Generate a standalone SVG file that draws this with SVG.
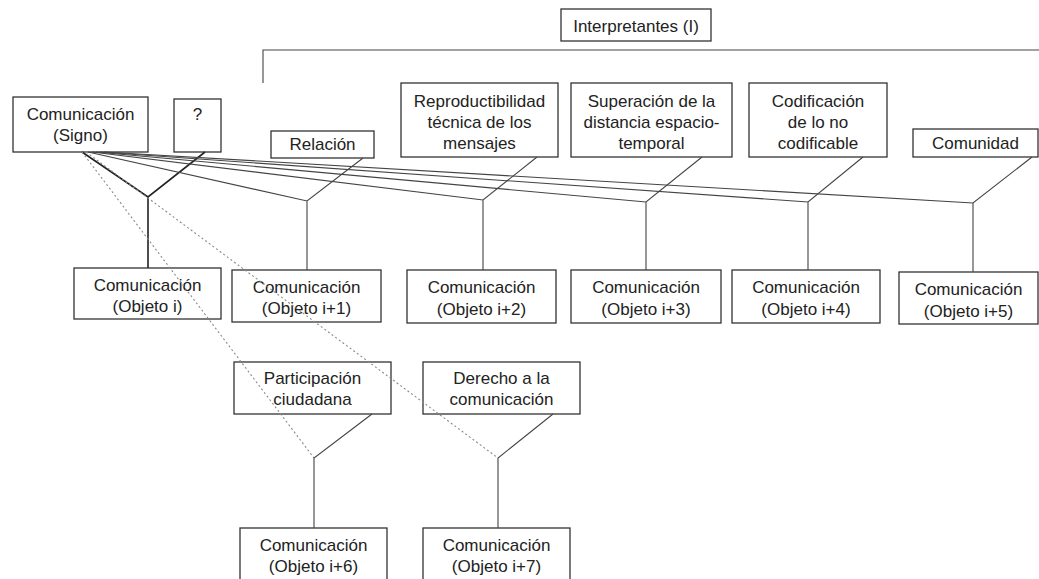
<svg xmlns="http://www.w3.org/2000/svg" width="1039" height="579" viewBox="0 0 1039 579">
<style>
.b{fill:#fff;stroke:#333;stroke-width:1.3}
.t{font-family:"Liberation Sans",Arial,sans-serif;font-size:17px;fill:#222;text-anchor:middle}
.c{fill:none;stroke:#444;stroke-width:1.1}
.k{fill:none;stroke:#222;stroke-width:1.6}
.d{fill:none;stroke:#8a8a8a;stroke-width:1.1;stroke-dasharray:2 2.5}
</style>
<rect width="1039" height="579" fill="#fff"/>
<g id="interpretantes"><rect class="b" x="561" y="9" width="150" height="32"/><text class="t" x="636" y="32">Interpretantes (I)</text></g>
<g id="signo"><rect class="b" x="13" y="97" width="135" height="55"/><text class="t" x="80.5" y="120">Comunicación</text><text class="t" x="80.5" y="141">(Signo)</text></g>
<g id="interrogante"><rect class="b" x="174" y="99" width="47" height="53"/><text class="t" x="197.5" y="120">?</text></g>
<g id="relacion"><rect class="b" x="271" y="131" width="103" height="27"/><text class="t" x="322.5" y="150">Relación</text></g>
<g id="reproductibilidad"><rect class="b" x="401" y="83" width="157" height="74"/><text class="t" x="479.5" y="107">Reproductibilidad</text><text class="t" x="479.5" y="128">técnica de los</text><text class="t" x="479.5" y="149">mensajes</text></g>
<g id="superacion"><rect class="b" x="571" y="83" width="161" height="74"/><text class="t" x="651.5" y="107">Superación de la</text><text class="t" x="651.5" y="128">distancia espacio-</text><text class="t" x="651.5" y="149">temporal</text></g>
<g id="codificacion"><rect class="b" x="749" y="83" width="138" height="74"/><text class="t" x="818" y="107">Codificación</text><text class="t" x="818" y="128">de lo no</text><text class="t" x="818" y="149">codificable</text></g>
<g id="comunidad"><rect class="b" x="913" y="129" width="125" height="28"/><text class="t" x="975.5" y="149">Comunidad</text></g>
<g id="objeto-i"><rect class="b" x="74" y="268" width="147" height="51"/><text class="t" x="147.5" y="291">Comunicación</text><text class="t" x="147.5" y="312">(Objeto i)</text></g>
<g id="objeto-i1"><rect class="b" x="232" y="270" width="149" height="52"/><text class="t" x="306.5" y="293">Comunicación</text><text class="t" x="306.5" y="314">(Objeto i+1)</text></g>
<g id="objeto-i2"><rect class="b" x="407" y="270" width="149" height="53"/><text class="t" x="481.5" y="293">Comunicación</text><text class="t" x="481.5" y="315">(Objeto i+2)</text></g>
<g id="objeto-i3"><rect class="b" x="571" y="270" width="150" height="53"/><text class="t" x="646" y="293">Comunicación</text><text class="t" x="646" y="315">(Objeto i+3)</text></g>
<g id="objeto-i4"><rect class="b" x="732" y="270" width="148" height="53"/><text class="t" x="806" y="293">Comunicación</text><text class="t" x="806" y="315">(Objeto i+4)</text></g>
<g id="objeto-i5"><rect class="b" x="899" y="272" width="139" height="52"/><text class="t" x="968.5" y="295">Comunicación</text><text class="t" x="968.5" y="317">(Objeto i+5)</text></g>
<g id="participacion"><rect class="b" x="234" y="362" width="157" height="52"/><text class="t" x="312.5" y="384">Participación</text><text class="t" x="312.5" y="405">ciudadana</text></g>
<g id="derecho"><rect class="b" x="423" y="362" width="157" height="52"/><text class="t" x="501.5" y="384">Derecho a la</text><text class="t" x="501.5" y="405">comunicación</text></g>
<g id="objeto-i6"><rect class="b" x="240" y="528" width="147" height="56"/><text class="t" x="313.5" y="551">Comunicación</text><text class="t" x="313.5" y="572">(Objeto i+6)</text></g>
<g id="objeto-i7"><rect class="b" x="423" y="528" width="147" height="56"/><text class="t" x="496.5" y="551">Comunicación</text><text class="t" x="496.5" y="572">(Objeto i+7)</text></g>
<g id="connectors">
<path class="c" d="M263,83 V50 H1039"/>
<path class="k" d="M82,152 L148,197 L205,152 M148,197 V268"/>
<path class="c" d="M88,152 L307,201 L363,158 M307,201 V270"/>
<path class="c" d="M92,152 L483,200 L537,157 M483,200 V270"/>
<path class="c" d="M96,152 L646,202 L702,157 M646,202 V270"/>
<path class="c" d="M100,152 L808,202 L863,157 M808,202 V270"/>
<path class="c" d="M104,152 L973,203 L1032,157 M973,203 V272"/>
<path class="d" d="M82,152 L314,458"/>
<path class="d" d="M86,152 L498,458"/>
<path class="c" d="M372,414 L314,458 V528"/>
<path class="c" d="M553,414 L498,458 V528"/>
</g>
</svg>
